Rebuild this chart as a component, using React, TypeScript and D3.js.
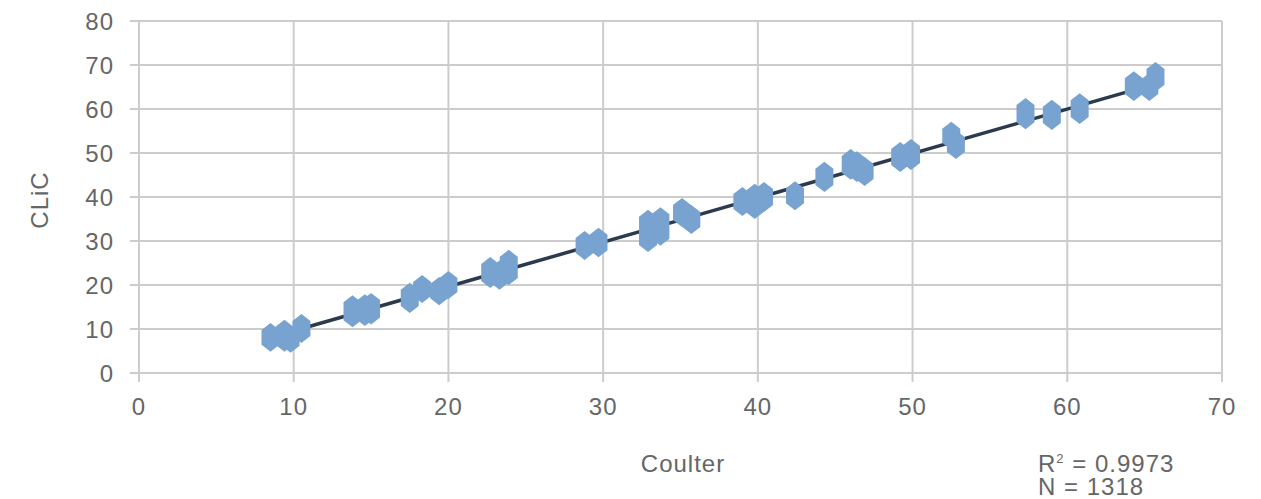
import React from "react";
import * as d3 from "d3";

// Coulter value of each cluster of points, with the lowest / highest CLiC reading seen
const coulter = [8.5, 9.4, 9.8, 10.5, 13.8, 14.6, 15.0, 17.5, 18.3, 19.4, 20.0, 22.7, 23.3, 23.9, 28.8, 29.7, 32.9, 33.7, 35.1, 35.7, 39.0, 39.8, 40.4, 42.4, 44.3, 46.0, 46.4, 46.9, 49.2, 49.9, 52.5, 52.8, 57.3, 59.0, 60.8, 64.3, 65.3, 65.7];
const clicLow = [6.4, 6.4, 6.2, 8.4, 12.0, 12.3, 12.6, 15.2, 17.5, 17.0, 18.4, 20.9, 20.5, 21.6, 27.3, 27.9, 29.1, 30.5, 34.8, 33.2, 37.3, 36.6, 38.2, 38.6, 42.7, 45.5, 45.0, 44.1, 47.3, 47.7, 52.3, 50.2, 57.0, 56.8, 58.2, 63.4, 63.4, 65.5];
const clicHigh = [9.8, 10.5, 9.0, 11.8, 16.1, 16.3, 16.6, 18.9, 20.7, 20.2, 21.6, 24.8, 24.0, 26.4, 30.7, 31.4, 35.5, 36.1, 38.2, 36.6, 40.7, 41.4, 41.8, 42.0, 46.4, 49.3, 48.8, 47.5, 50.9, 51.6, 55.5, 53.6, 60.9, 60.5, 62.0, 67.0, 66.6, 69.1];

const xTicks = [0, 10, 20, 30, 40, 50, 60, 70];
const yTicks = [0, 10, 20, 30, 40, 50, 60, 70, 80];

const trendSlope = 1.008;
const trendIntercept = -0.5;
const trendRange = [8.4, 65.8];

const W = 1261;
const H = 499;
const M = { left: 139, right: 1222, top: 21, bottom: 373 };
const FONT = "'Liberation Sans', Arial, Helvetica, sans-serif";
const GRID = "#cccccc";
const TEXT = "#666666";
const MARK = "#78a3d0";
const FS = 24;
const LS = 1;

export default function App() {
  const x = d3.scaleLinear().domain([0, 70]).range([M.left, M.right]);
  const y = d3.scaleLinear().domain([0, 80]).range([M.bottom, M.top]);

  const line = d3
    .line<number>()
    .x((d) => x(d))
    .y((d) => y(trendIntercept + trendSlope * d));

  const hw = 9;
  const slant = 7;
  const hex = (i: number) => {
    const cx = x(coulter[i]);
    const t = y(clicHigh[i]);
    const b = y(clicLow[i]);
    return [
      [cx, t - slant],
      [cx + hw, t],
      [cx + hw, b],
      [cx, b + slant],
      [cx - hw, b],
      [cx - hw, t],
    ]
      .map((p) => p.join(","))
      .join(" ");
  };

  return (
    <svg
      width={W}
      height={H}
      style={{ position: "absolute", left: 0, top: 0, display: "block", background: "#fff" }}
      fontFamily={FONT}
    >
      {yTicks.map((t) => (
        <line key={"gy" + t} x1={M.left - 9} x2={M.right} y1={y(t)} y2={y(t)} stroke={GRID} strokeWidth={2} />
      ))}
      {xTicks.map((t) => (
        <line key={"gx" + t} x1={x(t)} x2={x(t)} y1={M.top} y2={M.bottom + 9} stroke={GRID} strokeWidth={2} />
      ))}
      {yTicks.map((t) => (
        <text key={"ly" + t} x={114} y={y(t)} dy="0.36em" textAnchor="end" fontSize={FS} letterSpacing={LS} fill={TEXT}>
          {t}
        </text>
      ))}
      {xTicks.map((t) => (
        <text key={"lx" + t} x={x(t)} y={415} textAnchor="middle" fontSize={FS} letterSpacing={LS} fill={TEXT}>
          {t}
        </text>
      ))}
      <path d={line(trendRange) || ""} fill="none" stroke="#2b3a4c" strokeWidth={3.5} />
      {coulter.map((_, i) => (
        <polygon key={"p" + i} points={hex(i)} fill={MARK} />
      ))}
      <text x={683} y={472} textAnchor="middle" fontSize={FS} letterSpacing={LS} fill={TEXT}>
        Coulter
      </text>
      <text transform="translate(48,200) rotate(-90)" textAnchor="middle" fontSize={FS} letterSpacing={LS} fill={TEXT}>
        CLiC
      </text>
      <text x={1038} y={472} fontSize={FS} letterSpacing={LS} fill={TEXT}>
        R<tspan fontSize={13} dy={-9}>2</tspan>
        <tspan dy={9}> = 0.9973</tspan>
      </text>
      <text x={1038} y={495} fontSize={FS} letterSpacing={LS} fill={TEXT}>
        N = 1318
      </text>
    </svg>
  );
}
